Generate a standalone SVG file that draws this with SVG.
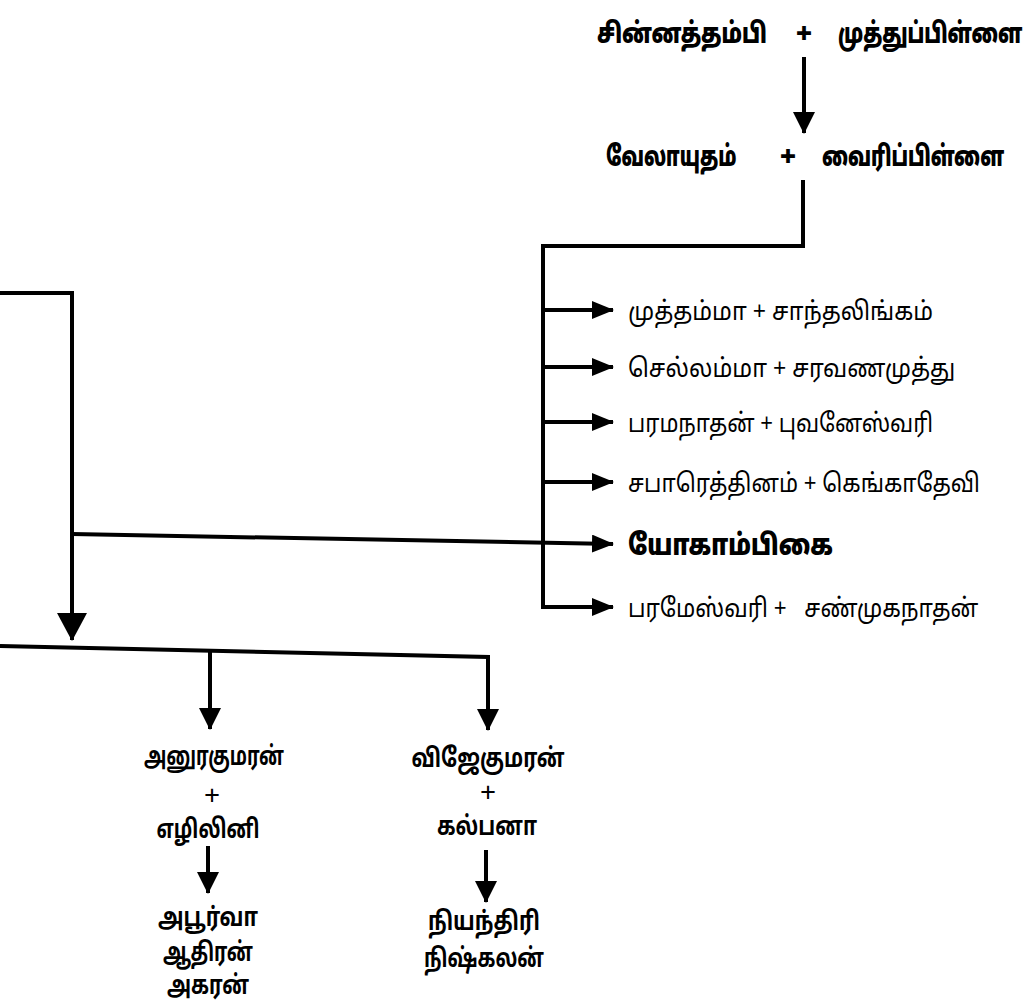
<svg xmlns="http://www.w3.org/2000/svg" width="1033" height="1002" viewBox="0 0 1033 1002">
<style>
text{font-family:"Noto Sans Tamil","Lohit Tamil","Noto Sans","Liberation Sans",sans-serif;fill:#000}
.b{font-weight:900}
.t{font-size:28px;font-weight:900}
.l{font-size:26px}
.n{font-size:26px;font-weight:bold}
.c{text-anchor:middle}
.ln{fill:none;stroke:#000;stroke-width:4;stroke-linejoin:miter}
</style>
<defs>
<marker id="as" markerWidth="22" markerHeight="18" refX="21" refY="9" orient="auto" markerUnits="userSpaceOnUse"><path d="M0,0 L22,9 L0,18 Z" fill="#000"/></marker>
<marker id="am" markerWidth="22" markerHeight="22" refX="21" refY="11" orient="auto" markerUnits="userSpaceOnUse"><path d="M0,0 L22,11 L0,22 Z" fill="#000"/></marker>
<marker id="al" markerWidth="28" markerHeight="30" refX="27" refY="15" orient="auto" markerUnits="userSpaceOnUse"><path d="M0,0 L28,15 L0,30 Z" fill="#000"/></marker>
</defs>
<rect width="1033" height="1002" fill="#fff"/>
<g id="connectors">
<path class="ln" d="M804,57 V133" marker-end="url(#am)"/>
<path class="ln" d="M803,180 V246 H543 V607 H613" marker-end="url(#as)"/>
<path class="ln" d="M543,310 H613" marker-end="url(#as)"/>
<path class="ln" d="M543,367 H613" marker-end="url(#as)"/>
<path class="ln" d="M543,422 H613" marker-end="url(#as)"/>
<path class="ln" d="M543,482 H613" marker-end="url(#as)"/>
<path class="ln" d="M72,534 L613,544" marker-end="url(#as)"/>
<path class="ln" d="M0,293 H72 V640" marker-end="url(#al)"/>
<path class="ln" d="M0,646 L488,657 V730" marker-end="url(#am)"/>
<path class="ln" d="M210,651 V729" marker-end="url(#am)"/>
<path class="ln" d="M208,846 V893" marker-end="url(#am)"/>
<path class="ln" d="M486,850 V902" marker-end="url(#am)"/>
</g>
<g id="node-chinnathambi">
<text class="t" transform="translate(597,43) scale(0.72,1)" x="0" y="0" textLength="236" lengthAdjust="spacingAndGlyphs">சின்னத்தம்பி</text>
<text class="t c" x="804" y="43">+</text>
<text class="t" transform="translate(838,43) scale(0.72,1)" x="0" y="0" textLength="256" lengthAdjust="spacingAndGlyphs">முத்துப்பிள்ளை</text>
</g>
<g id="node-velayutham">
<text class="t" transform="translate(606,166) scale(0.72,1)" x="0" y="0" textLength="181" lengthAdjust="spacingAndGlyphs">வேலாயுதம்</text>
<text class="t c" x="788" y="166">+</text>
<text class="t" transform="translate(822,166) scale(0.72,1)" x="0" y="0" textLength="253" lengthAdjust="spacingAndGlyphs">வைரிப்பிள்ளை</text>
</g>
<g id="node-muthamma"><text class="l" transform="translate(628,320) scale(0.85,1)" x="0" y="0" textLength="359" lengthAdjust="spacingAndGlyphs">முத்தம்மா + சாந்தலிங்கம்</text></g>
<g id="node-chellamma"><text class="l" transform="translate(628,377) scale(0.85,1)" x="0" y="0" textLength="385" lengthAdjust="spacingAndGlyphs">செல்லம்மா + சரவணமுத்து</text></g>
<g id="node-paramanathan"><text class="l" transform="translate(628,432) scale(0.85,1)" x="0" y="0" textLength="359" lengthAdjust="spacingAndGlyphs">பரமநாதன் + புவனேஸ்வரி</text></g>
<g id="node-saparethinam"><text class="l" transform="translate(628,492) scale(0.85,1)" x="0" y="0" textLength="414" lengthAdjust="spacingAndGlyphs">சபாரெத்தினம் + கெங்காதேவி</text></g>
<g id="node-yogambikai"><text class="b" style="font-size:29px" x="628" y="555" textLength="205" lengthAdjust="spacingAndGlyphs">யோகாம்பிகை</text></g>
<g id="node-parameswari"><text class="l" xml:space="preserve" transform="translate(628,617) scale(0.85,1)" x="0" y="0" textLength="412" lengthAdjust="spacingAndGlyphs">பரமேஸ்வரி +   சண்முகநாதன்</text></g>
<g id="node-anurakumaran">
<text class="n c" x="214" y="765" textLength="140" lengthAdjust="spacingAndGlyphs">அனுரகுமரன்</text>
<text class="l c" style="font-size:28px" x="212" y="805">+</text>
<text class="n c" x="208" y="838" textLength="103" lengthAdjust="spacingAndGlyphs">எழிலினி</text>
</g>
<g id="node-apoorva">
<text class="n c" x="208" y="926" textLength="100" lengthAdjust="spacingAndGlyphs">அபூர்வா</text>
<text class="n c" x="208" y="961" textLength="90" lengthAdjust="spacingAndGlyphs">ஆதிரன்</text>
<text class="n c" x="208" y="994" textLength="82" lengthAdjust="spacingAndGlyphs">அகரன்</text>
</g>
<g id="node-vijekumaran">
<text class="n c" x="488" y="767" textLength="153" lengthAdjust="spacingAndGlyphs">விஜேகுமரன்</text>
<text class="l c" style="font-size:28px" x="488" y="802">+</text>
<text class="n c" x="487" y="835" textLength="100" lengthAdjust="spacingAndGlyphs">கல்பனா</text>
</g>
<g id="node-niyanthiri">
<text class="n c" x="484" y="930" textLength="112" lengthAdjust="spacingAndGlyphs">நியந்திரி</text>
<text class="n c" x="484" y="967" textLength="120" lengthAdjust="spacingAndGlyphs">நிஷ்கலன்</text>
</g>
</svg>
